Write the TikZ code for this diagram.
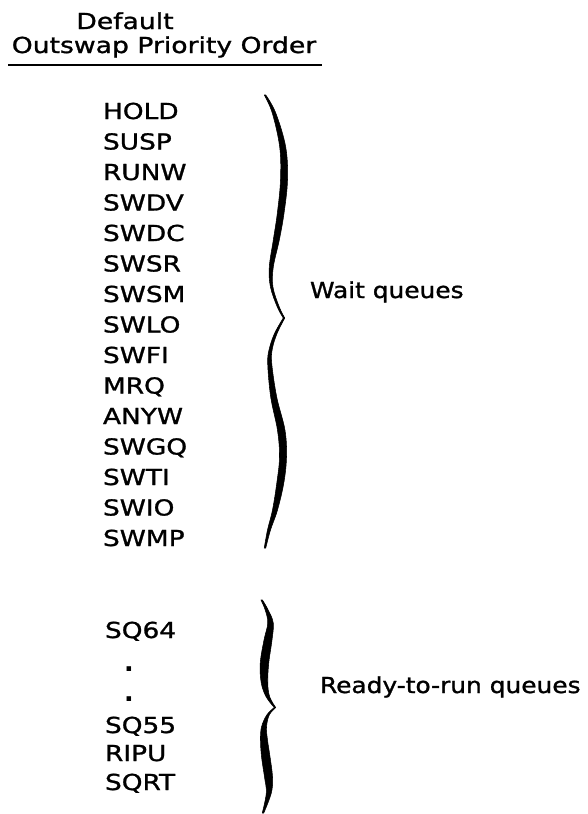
\documentclass[tikz,border=0pt]{standalone}
\usepackage{fontspec}
\setmainfont{DejaVu Sans}
\newfontfamily\headfont{DejaVu Sans}[FakeStretch=1.21,FakeBold=1.2]
\newfontfamily\qfont{DejaVu Sans}[FakeStretch=1.2,FakeBold=1.2]
\newfontfamily\groupfont{DejaVu Sans}[FakeStretch=1.13,FakeBold=1.2]
\newfontfamily\dotfont{DejaVu Sans Bold}
\begin{document}
\begin{tikzpicture}[x=0.75pt,y=-0.75pt,
  txt/.style={inner sep=0pt,outer sep=0pt,font=\fontsize{16.5}{20}\selectfont},
  qname/.style={txt,anchor=base west,font=\qfont\fontsize{16.5}{20}\selectfont},
  head/.style={txt,anchor=base,font=\headfont\fontsize{16.5}{20}\selectfont},
  group/.style={txt,anchor=base west,font=\groupfont\fontsize{16.5}{20}\selectfont},
  elide/.style={txt,anchor=base,font=\dotfont\fontsize{19}{20}\selectfont},
  brace/.style={fill=black,draw=black,line width=0.4pt,line join=round}]
\useasboundingbox (0,0) rectangle (587,814);

% heading
\node[head] (h1) at (125,29) {Default};
\node[head] (h2) at (164,53) {Outswap Priority Order};
\coordinate (ulL) at (8,65);
\coordinate (ulR) at (322,65);
\draw[line width=1.2pt] (ulL) -- (ulR);

% wait queues
\node[qname] (q1)  at (103,119)   {HOLD};
\node[qname] (q2)  at (103,149.5) {SUSP};
\node[qname] (q3)  at (103,180)   {RUNW};
\node[qname] (q4)  at (103,210.5) {SWDV};
\node[qname] (q5)  at (103,241)   {SWDC};
\node[qname] (q6)  at (103,271.5) {SWSR};
\node[qname] (q7)  at (103,302)   {SWSM};
\node[qname] (q8)  at (103,332.5) {SWLO};
\node[qname] (q9)  at (103,363)   {SWFI};
\node[qname] (q10) at (103,393.5) {MRQ};
\node[qname] (q11) at (103,424)   {ANYW};
\node[qname] (q12) at (103,454.5) {SWGQ};
\node[qname] (q13) at (103,485)   {SWTI};
\node[qname] (q14) at (103,515.5) {SWIO};
\node[qname] (q15) at (103,546)   {SWMP};

% ready-to-run queues
\node[qname] (r1) at (105,638) {SQ64};
\node[elide] (d1) at (129,671) {.};
\node[elide] (d2) at (129,701) {.};
\node[qname] (r2) at (105,733) {SQ55};
\node[qname] (r3) at (105,761) {RIPU};
\node[qname] (r4) at (105,790) {SQRT};

% group labels
\node[group] (wait)  at (310,298) {Wait queues};
\node[group] (ready) at (320,693) {Ready-to-run queues};

% upper brace, top half then bottom half
\filldraw[brace]
  plot[smooth,tension=0.6] coordinates {(265.75,95) (275.75,113) (285.7,147) (287.5,180) (284.05,213) (279.3,240) (273.3,267) (272.95,287) (279.3,307) (284.75,318)}
  -- plot[smooth,tension=0.6] coordinates {(283.25,318) (277.3,307) (270.45,287) (269.3,267) (273.3,240) (277.35,213) (280.5,180) (279.7,147) (272.25,113) (264.25,95)}
  -- cycle;
\filldraw[brace]
  plot[smooth,tension=0.6] coordinates {(284.75,318) (277.25,333) (272.5,348) (271.7,363) (276.7,397) (284.95,430) (286.5,457) (283.8,483) (277.5,510) (270.5,530) (265.75,548)}
  -- plot[smooth,tension=0.6] coordinates {(264.25,548) (267.5,530) (272.5,510) (276.8,483) (279.5,457) (277.45,430) (270.7,397) (267.7,363) (269.5,348) (274.75,333) (283.25,318)}
  -- cycle;

% lower brace
\filldraw[brace]
  plot[smooth,tension=0.6] coordinates {(262.45,600) (268.2,610) (273.25,623) (272,640) (268.75,663) (267.75,683) (269.75,697) (275.75,707.5)}
  -- plot[smooth,tension=0.6] coordinates {(274.25,707.5) (266.25,697) (261.25,683) (260.25,663) (264,640) (267.75,623) (265.2,610) (260.95,600)}
  -- cycle;
\filldraw[brace]
  plot[smooth,tension=0.6] coordinates {(275.75,707.5) (269.25,715) (266.5,727) (267.5,740) (270.05,757) (272.5,777) (271.3,793) (263.75,813)}
  -- plot[smooth,tension=0.6] coordinates {(262.25,813) (266.3,793) (264.5,777) (261.55,757) (260.5,740) (261.5,727) (266.75,715) (274.25,707.5)}
  -- cycle;
\end{tikzpicture}
\end{document}
